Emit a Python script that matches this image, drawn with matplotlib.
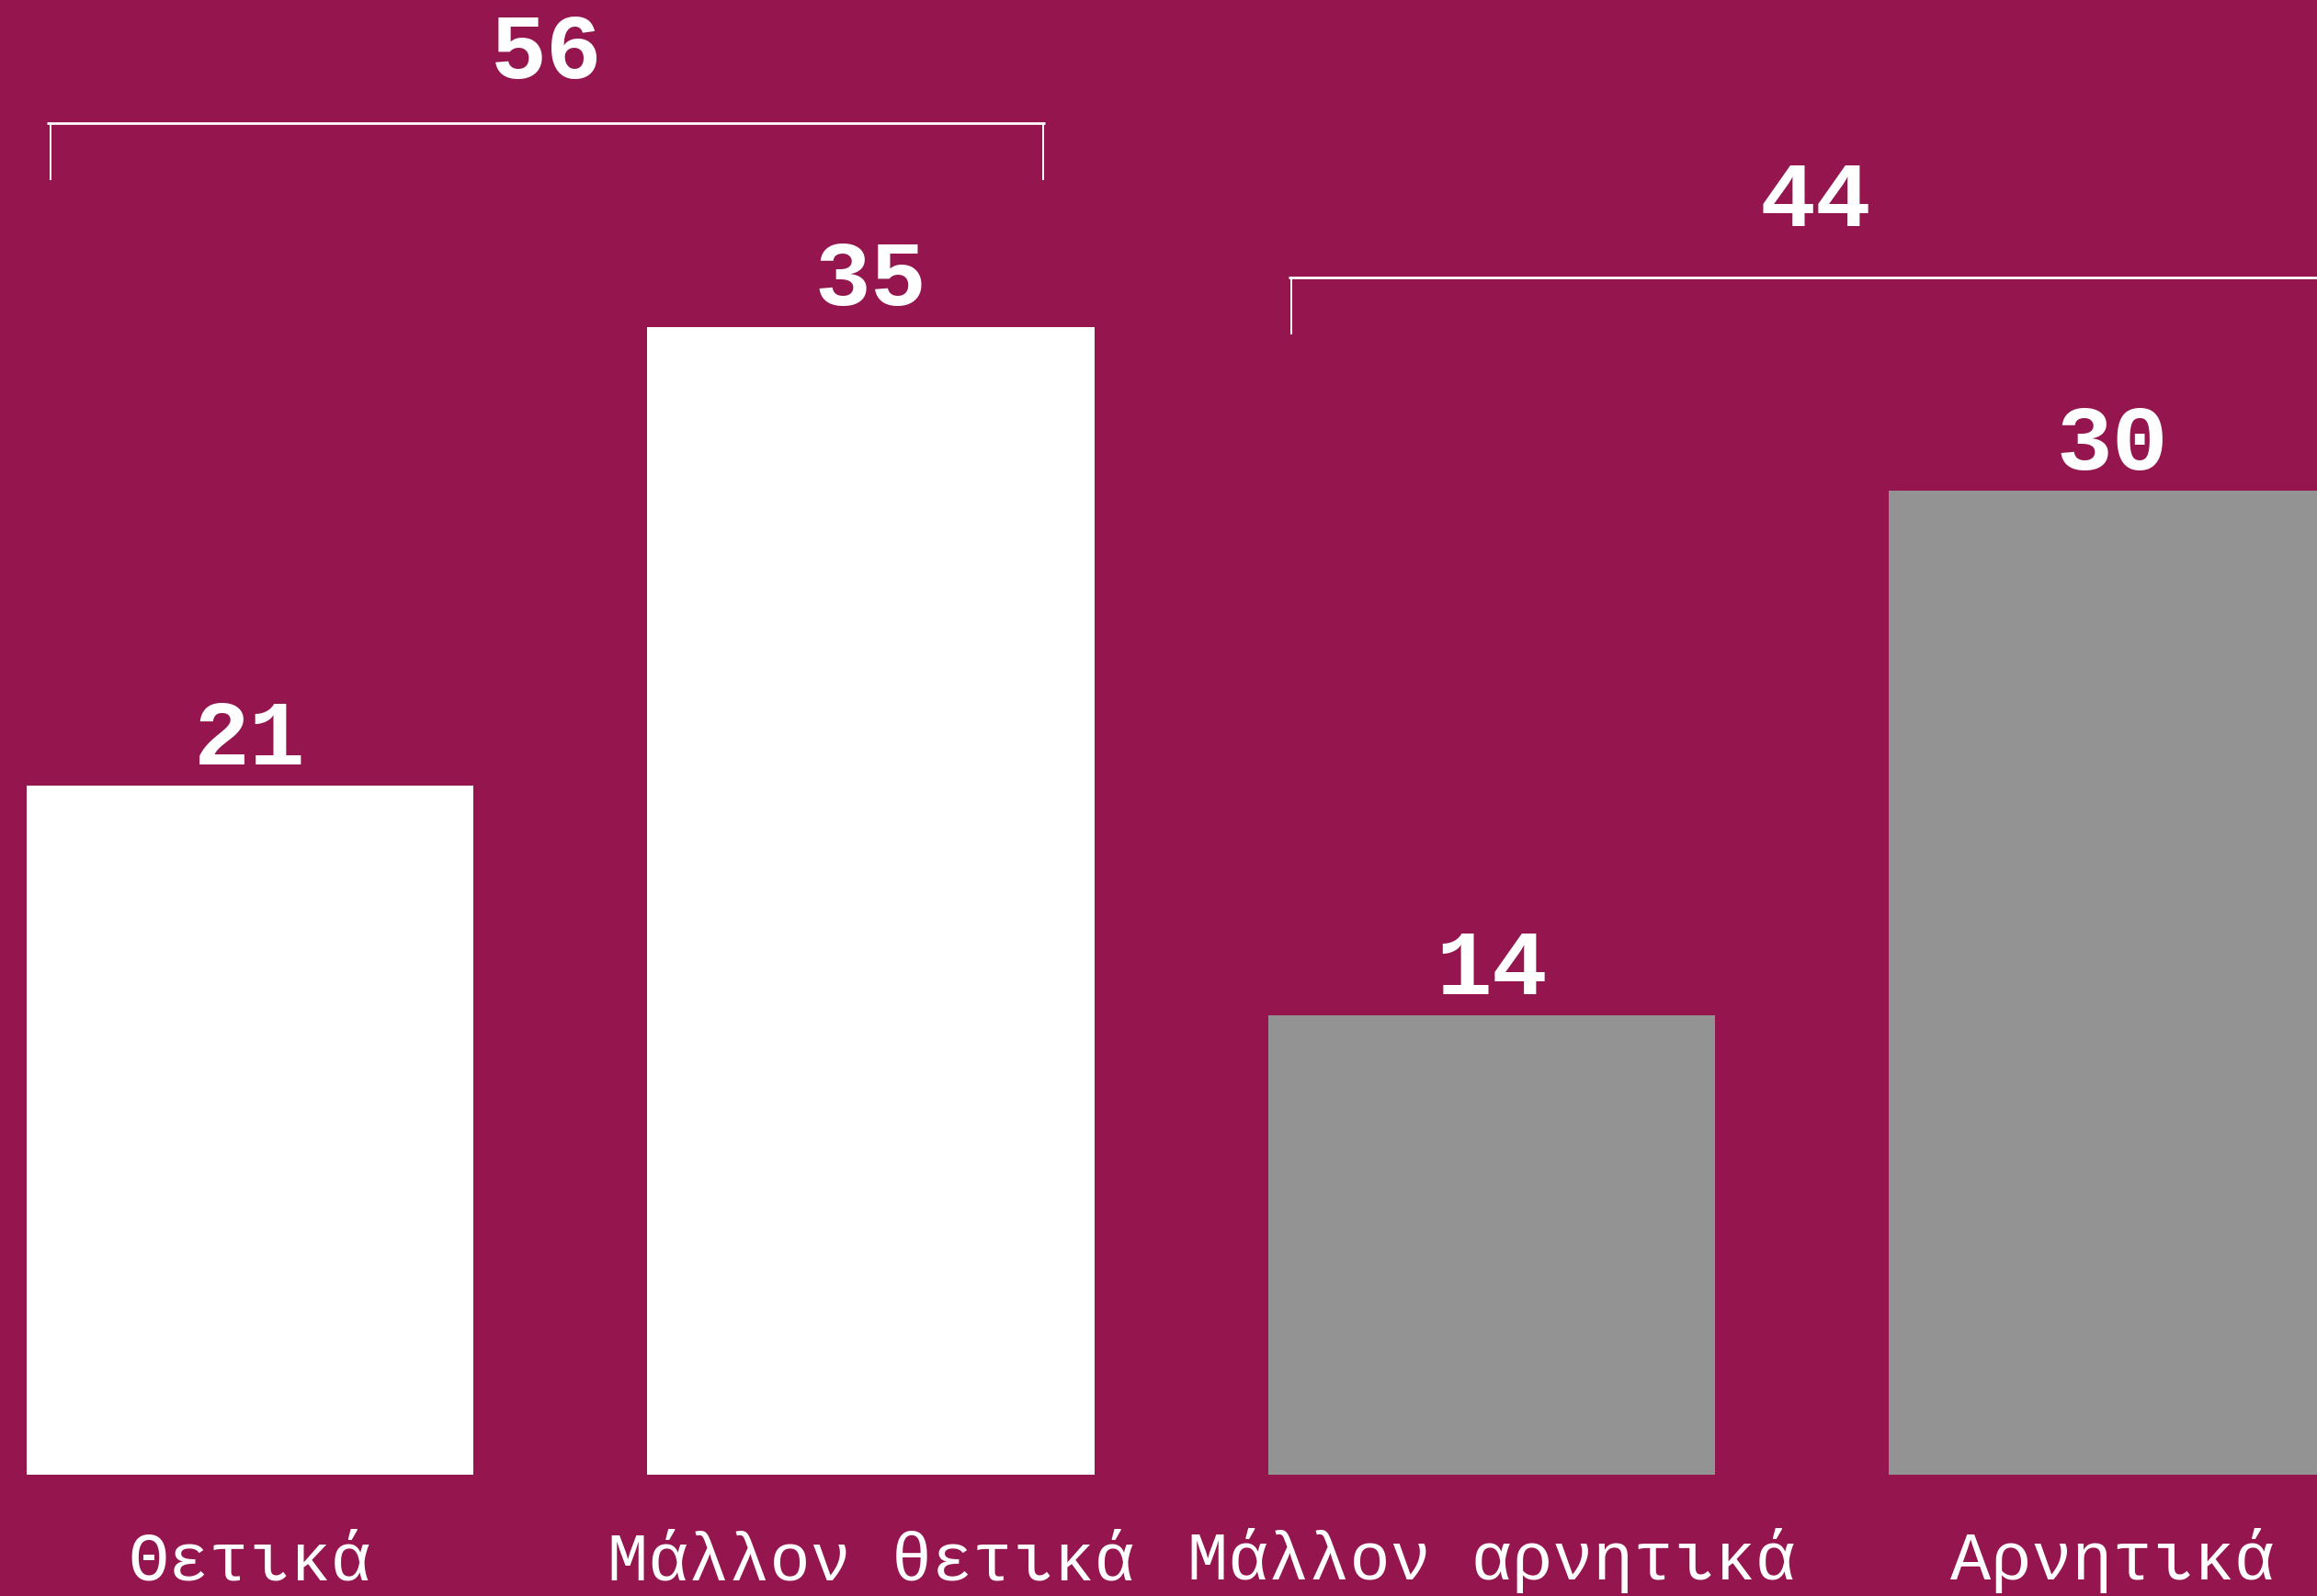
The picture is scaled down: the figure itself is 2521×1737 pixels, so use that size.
import matplotlib
matplotlib.use("Agg")
import matplotlib.pyplot as plt

categories = ["Θετικά", "Μάλλον θετικά", "Μάλλον αρνητικά", "Αρνητικά"]
values = [21, 35, 14, 30]
groups = [(0, 1), (2, 3)]          # positive pair, negative pair

BG = "#95164f"
bar_colors = ["#ffffff", "#ffffff", "#939393", "#939393"]
FONT = ["Liberation Mono", "DejaVu Sans Mono"]

fig = plt.figure(figsize=(25.21, 17.37), dpi=100, facecolor=BG)
ax = fig.add_axes([0, 0, 1, 1])
ax.set_facecolor(BG)

x = list(range(len(values)))
ax.bar(x, values, width=0.72, color=bar_colors, zorder=3)

# value labels above each bar
for xi, v in zip(x, values):
    ax.text(xi, v + 0.65, str(v), ha="center", va="baseline", color="white",
            fontsize=73, fontweight="bold", family=FONT, zorder=2)

# category labels under the baseline
for xi, c in zip(x, categories):
    ax.text(xi, -3.2, c, ha="center", va="baseline", color="white",
            fontsize=53, family=FONT)

# brackets with group totals
line_gap = [6.2, 6.5]
text_gap = [2.1, 2.3]
for k, (a, b) in enumerate(groups):
    top = max(values[a], values[b])
    yb = top + line_gap[k]
    x0, x1 = a - 0.327, b + 0.281 + (0.09 if a else 0)
    ax.plot([x0, x1], [yb, yb], color="white", lw=2.0, solid_capstyle="butt")
    ax.plot([x0 + 0.005, x0 + 0.005], [yb, yb - 1.7], color="white", lw=1.4)
    ax.plot([x1 - 0.003, x1 - 0.003], [yb, yb - 1.7], color="white", lw=1.4)
    ax.text((x0 + x1) / 2, yb + text_gap[k], str(values[a] + values[b]),
            ha="center", va="center", color="white", fontsize=73,
            fontweight="bold", family=FONT)

ax.set_xlim(-0.403, 3.33)
ax.set_ylim(-3.70, 44.96)
ax.axis("off")

fig.savefig("out.png", dpi=100, facecolor=BG)
